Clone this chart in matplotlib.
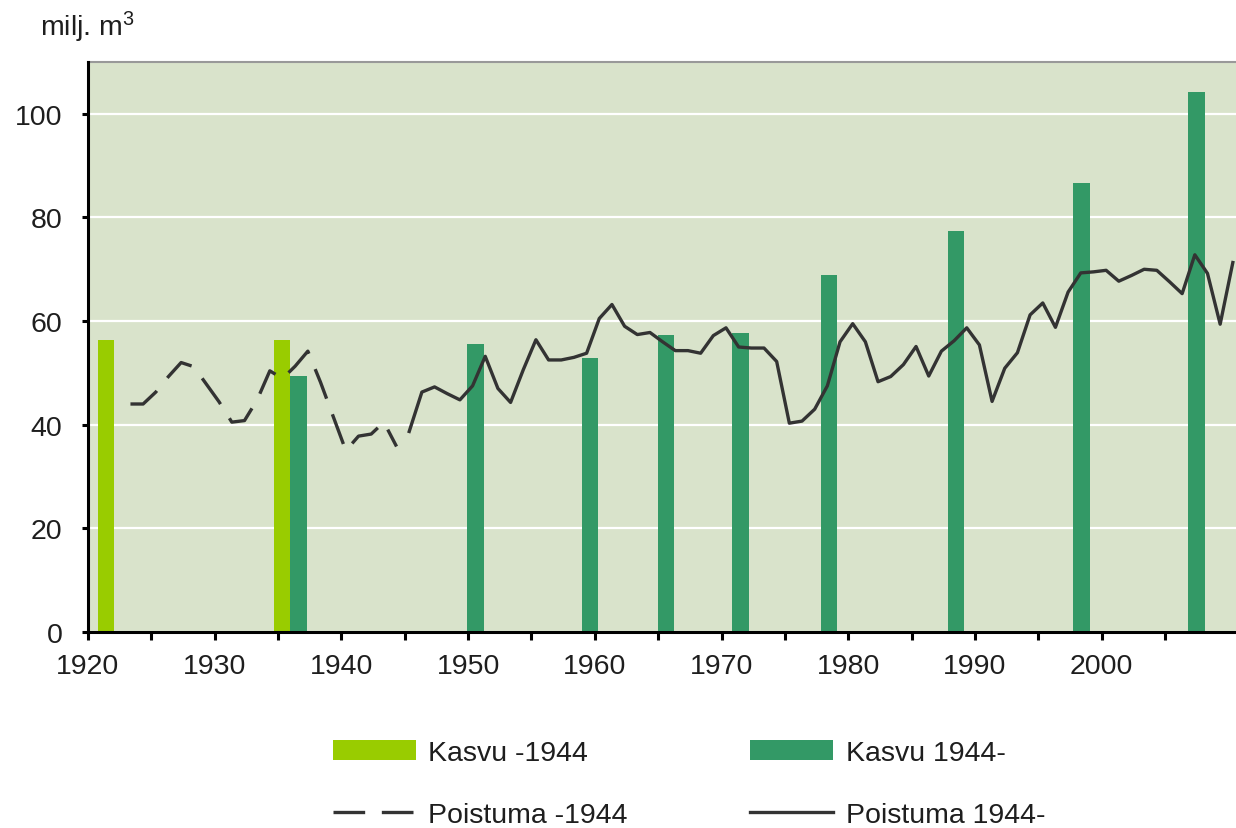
import numpy as np
import matplotlib
matplotlib.use("Agg")
from matplotlib import pyplot as plt
from matplotlib.patches import Patch
from matplotlib.lines import Line2D

# growth (kasvu) from the forest inventories
kasvu_old_years = [1921.4, 1935.3]
kasvu_old = [56.3, 56.3]
kasvu_new_years = [1936.6, 1950.6, 1959.6, 1965.6, 1971.5, 1978.5, 1988.5, 1998.4, 2007.5]
kasvu_new = [49.4, 55.6, 52.9, 57.3, 57.7, 68.8, 77.3, 86.7, 104.2]

# drain (poistuma), yearly
poist_old_years = list(range(1923, 1945))
poist_old = [44.0, 44.0, 46.3, 49.3, 52.0, 51.2, 47.8, 44.4, 40.5, 40.8, 44.8,
             50.4, 48.9, 51.3, 54.2, 48.2, 41.6, 35.0, 37.8, 38.2, 40.5, 35.8]

poist_new_years = list(range(1945, 2011))
poist_new = [38.7, 46.3, 47.3, 46.0, 44.8, 47.5, 53.2, 47.0, 44.3, 50.6,
             56.4, 52.5, 52.5, 53.0, 53.8, 60.5, 63.2, 59.0, 57.4, 57.8,
             56.0, 54.3, 54.3, 53.8, 57.2, 58.7, 55.0, 54.8, 54.8, 52.2,
             40.3, 40.7, 43.0, 47.5, 56.0, 59.5, 56.0, 48.3, 49.3, 51.6,
             55.1, 49.4, 54.2, 56.2, 58.7, 55.4, 44.5, 50.9, 53.9, 61.2,
             63.5, 58.8, 65.6, 69.3, 69.5, 69.8, 67.7, 68.8, 70.0, 69.8,
             67.6, 65.3, 72.8, 69.2, 59.4, 71.3]

labels = ["Kasvu -1944", "Kasvu 1944-", "Poistuma -1944", "Poistuma 1944-"]

light_green = "#99cc00"
dark_green = "#339966"
line_col = "#333333"
bg = "#d9e3cb"
txt = "#1e1e1e"
mid = 0.35  # yearly points sit a bit into the year slot
dash = (9.5, 5)

plt.rcParams["font.family"] = ["Liberation Sans", "DejaVu Sans"]
plt.rcParams["font.size"] = 20.5
plt.rcParams["mathtext.default"] = "regular"

fig = plt.figure(figsize=(12.36, 8.29), dpi=100)
ax = fig.add_axes([88 / 1236, 196 / 829, 1 - 88 / 1236, 570 / 829])
ax.set_facecolor(bg)

ax.bar(kasvu_old_years, kasvu_old, width=1.3, color=light_green, zorder=2)
ax.bar(kasvu_new_years, kasvu_new, width=1.3, color=dark_green, zorder=2)

ax.plot(np.array(poist_old_years) + mid, poist_old, color=line_col, lw=2.4,
        dashes=dash, zorder=3)
ax.plot(np.array(poist_new_years) + mid, poist_new, color=line_col, lw=2.4, zorder=3)

ax.set_xlim(1920, 2010.6)
ax.set_ylim(0, 110)
ax.set_yticks([0, 20, 40, 60, 80, 100])
ax.set_xticks(range(1920, 2010, 10))
ax.set_xticks(range(1925, 2011, 10), minor=True)
ax.yaxis.grid(True, color="white", lw=1.6)
ax.set_axisbelow(True)

for s in ["left", "bottom"]:
    ax.spines[s].set_linewidth(2.2)
    ax.spines[s].set_color("black")
    ax.spines[s].set_zorder(4)
ax.spines["top"].set_color("#999999")
ax.spines["top"].set_linewidth(1.5)
ax.spines["right"].set_visible(False)

ax.tick_params(axis="x", which="both", length=6, width=2.2, pad=9, colors="black",
               labelcolor=txt)
ax.tick_params(axis="y", length=4.5, width=2.2, pad=14, colors="black", labelcolor=txt)

fig.text(40 / 1236, 1 - 27 / 829, "milj. m$^{3}$", va="center", ha="left", color=txt)

# legend fills column by column, so order it to get the rows right
handles = [
    Patch(facecolor=light_green, edgecolor="none"),
    Line2D([], [], color=line_col, lw=2.4, dashes=dash),
    Patch(facecolor=dark_green, edgecolor="none"),
    Line2D([], [], color=line_col, lw=2.4),
]
leg_labels = [labels[0], labels[2], labels[1], labels[3]]
fig.legend(handles, leg_labels, ncol=2, loc="upper left",
           bbox_to_anchor=(333 / 1236, 1 - 741 / 829), frameon=False,
           borderpad=0, borderaxespad=0, handlelength=2.9, handleheight=0.72,
           handletextpad=0.45, columnspacing=4.3, labelspacing=1.25,
           labelcolor=txt)

fig.savefig("out.png", dpi=100)
